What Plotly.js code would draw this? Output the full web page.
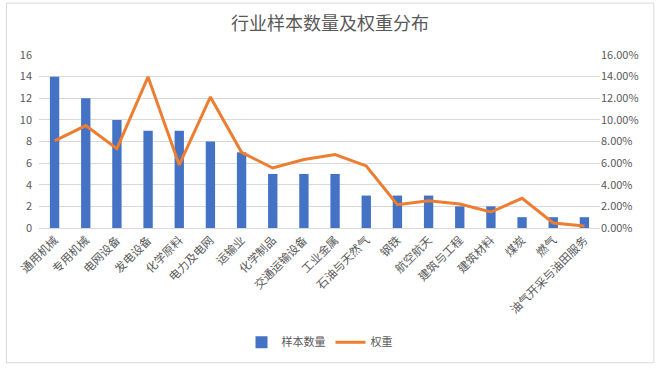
<!DOCTYPE html>
<html><head><meta charset="utf-8">
<script src="https://cdn.plot.ly/plotly-3.0.1.min.js"></script>
<style>html,body{margin:0;padding:0;background:#fff}#c{width:660px;height:371px}</style>
</head><body><div id="c"></div>
<script>
const categories = ["通用机械","专用机械","电网设备","发电设备","化学原料","电力及电网","运输业","化学制品","交通运输设备","工业金属","石油与天然气","钢铁","航空航天","建筑与工程","建筑材料","煤炭","燃气","油气开采与油田服务"];
const sampleCounts = [14,12,10,9,9,8,7,5,5,5,3,3,3,2,2,1,1,1];
const weights = [0.0805,0.0947,0.0734,0.1397,0.0583,0.1212,0.0700,0.0555,0.0633,0.0679,0.0574,0.0216,0.0253,0.0222,0.0148,0.0275,0.0046,0.0019];

const font = "'Noto Sans CJK SC', 'Noto Sans', sans-serif";
const grey = "#595959";
const traces = [
  {type:'bar', name:'样本数量', x:categories, y:sampleCounts, marker:{color:'#4472C4'}, yaxis:'y'},
  {type:'scatter', mode:'lines', name:'权重', x:categories, y:weights, line:{color:'#ED7D31', width:3}, yaxis:'y2'}
];
const layout = {
  width:660, height:371,
  margin:{l:39, r:60, t:55, b:143},
  paper_bgcolor:'#fff', plot_bgcolor:'#fff',
  font:{family:font, color:grey, size:11},
  title:{text:'行业样本数量及权重分布', font:{family:font, size:18, color:grey}, x:0.5, xanchor:'center', y:0.935, yanchor:'middle'},
  bargap:0.70,
  showlegend:true,
  legend:{orientation:'h', x:0.5, xanchor:'center', y:-0.66, yanchor:'middle', font:{family:font, size:11, color:grey}},
  xaxis:{tickangle:-45, tickfont:{family:font, size:11.5, color:grey}, showline:true, linecolor:'#D9D9D9', linewidth:1, ticks:'', fixedrange:true},
  yaxis:{range:[0,16], dtick:2, tickfont:{family:font, size:11, color:grey}, gridcolor:'#D9D9D9', gridwidth:1, zeroline:false, showline:false, ticks:'', ticklabelstandoff:6},
  yaxis2:{range:[0,0.16], dtick:0.02, tickformat:'.2%', overlaying:'y', side:'right', showgrid:false, zeroline:false, showline:false, tickfont:{family:font, size:11, color:grey}, ticks:''},
  shapes:[{type:'rect', xref:'paper', yref:'paper', x0:-0.058, x1:1.096, y0:-0.779, y1:1.30, line:{color:'#D9D9D9', width:1}, fillcolor:'rgba(0,0,0,0)', layer:'below'}]
};
Plotly.newPlot('c', traces, layout, {displayModeBar:false, staticPlot:true});
</script></body></html>
